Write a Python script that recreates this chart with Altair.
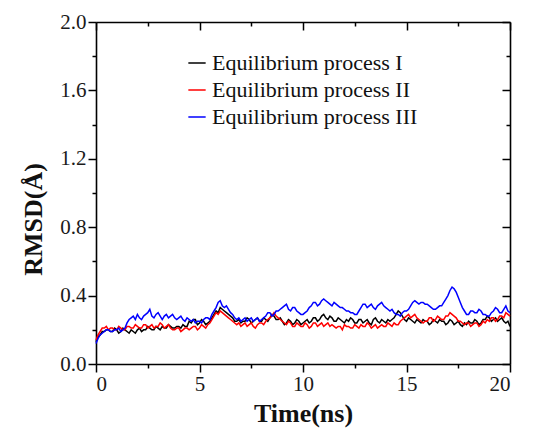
import altair as alt
import pandas as pd

time_ns = [i / 10 for i in range(201)]

rmsd_I = [
    0.13, 0.16, 0.17, 0.19, 0.19, 0.20, 0.20, 0.19, 0.19, 0.21,
    0.20, 0.18, 0.19, 0.21, 0.20, 0.19, 0.18, 0.20, 0.19, 0.18,
    0.20, 0.21, 0.19, 0.20, 0.20, 0.22, 0.21, 0.20, 0.20, 0.22,
    0.21, 0.20, 0.22, 0.21, 0.21, 0.23, 0.22, 0.21, 0.21, 0.22,
    0.22, 0.21, 0.23, 0.22, 0.22, 0.25, 0.24, 0.26, 0.26, 0.23,
    0.24, 0.26, 0.25, 0.23, 0.24, 0.25, 0.27, 0.29, 0.31, 0.30,
    0.33, 0.32, 0.31, 0.30, 0.29, 0.28, 0.27, 0.25, 0.25, 0.26,
    0.24, 0.25, 0.25, 0.27, 0.26, 0.24, 0.25, 0.26, 0.27, 0.25,
    0.25, 0.27, 0.26, 0.25, 0.27, 0.29, 0.28, 0.26, 0.26, 0.27,
    0.25, 0.23, 0.24, 0.26, 0.25, 0.23, 0.24, 0.26, 0.25, 0.23,
    0.24, 0.25, 0.26, 0.24, 0.25, 0.27, 0.27, 0.25, 0.26, 0.28,
    0.29, 0.27, 0.26, 0.28, 0.27, 0.25, 0.25, 0.27, 0.26, 0.25,
    0.24, 0.26, 0.25, 0.27, 0.26, 0.24, 0.24, 0.26, 0.26, 0.24,
    0.25, 0.26, 0.24, 0.23, 0.26, 0.27, 0.25, 0.24, 0.26, 0.25,
    0.24, 0.26, 0.25, 0.26, 0.27, 0.29, 0.31, 0.30, 0.28, 0.26,
    0.25, 0.27, 0.26, 0.25, 0.24, 0.26, 0.25, 0.24, 0.26, 0.25,
    0.25, 0.23, 0.24, 0.26, 0.25, 0.24, 0.26, 0.25, 0.25, 0.23,
    0.24, 0.26, 0.25, 0.23, 0.24, 0.25, 0.23, 0.22, 0.24, 0.23,
    0.25, 0.24, 0.24, 0.26, 0.25, 0.23, 0.24, 0.26, 0.26, 0.28,
    0.27, 0.25, 0.26, 0.27, 0.25, 0.26, 0.27, 0.25, 0.24, 0.25,
    0.22,
]

rmsd_II = [
    0.14, 0.17, 0.19, 0.21, 0.21, 0.22, 0.20, 0.21, 0.21, 0.20,
    0.20, 0.22, 0.21, 0.20, 0.20, 0.22, 0.22, 0.21, 0.21, 0.23,
    0.22, 0.21, 0.21, 0.23, 0.23, 0.21, 0.22, 0.23, 0.21, 0.22,
    0.22, 0.24, 0.23, 0.21, 0.22, 0.23, 0.21, 0.20, 0.20, 0.21,
    0.21, 0.19, 0.20, 0.21, 0.21, 0.20, 0.21, 0.22, 0.22, 0.20,
    0.21, 0.23, 0.22, 0.21, 0.23, 0.24, 0.26, 0.28, 0.30, 0.29,
    0.31, 0.30, 0.29, 0.28, 0.27, 0.26, 0.25, 0.24, 0.23, 0.24,
    0.22, 0.23, 0.24, 0.22, 0.23, 0.24, 0.22, 0.21, 0.23, 0.24,
    0.24, 0.23, 0.25, 0.26, 0.27, 0.28, 0.30, 0.28, 0.27, 0.26,
    0.25, 0.24, 0.23, 0.25, 0.24, 0.22, 0.22, 0.24, 0.23, 0.22,
    0.22, 0.24, 0.23, 0.21, 0.22, 0.24, 0.24, 0.22, 0.23, 0.24,
    0.22, 0.23, 0.24, 0.22, 0.23, 0.22, 0.21, 0.22, 0.22, 0.20,
    0.23, 0.22, 0.22, 0.21, 0.21, 0.23, 0.22, 0.21, 0.23, 0.22,
    0.22, 0.24, 0.23, 0.21, 0.22, 0.23, 0.21, 0.22, 0.23, 0.22,
    0.22, 0.24, 0.23, 0.22, 0.24, 0.23, 0.23, 0.25, 0.26, 0.27,
    0.28, 0.29, 0.27, 0.28, 0.29, 0.27, 0.26, 0.25, 0.24, 0.25,
    0.25, 0.27, 0.27, 0.25, 0.26, 0.28, 0.27, 0.26, 0.26, 0.28,
    0.28, 0.30, 0.29, 0.28, 0.27, 0.25, 0.25, 0.24, 0.23, 0.24,
    0.24, 0.22, 0.23, 0.24, 0.24, 0.22, 0.23, 0.25, 0.24, 0.26,
    0.25, 0.27, 0.27, 0.25, 0.26, 0.28, 0.28, 0.27, 0.30, 0.29,
    0.28,
]

rmsd_III = [
    0.12, 0.15, 0.17, 0.18, 0.19, 0.20, 0.20, 0.19, 0.19, 0.20,
    0.20, 0.21, 0.19, 0.20, 0.21, 0.24, 0.26, 0.27, 0.28, 0.26,
    0.29, 0.27, 0.26, 0.28, 0.29, 0.30, 0.32, 0.28, 0.27, 0.29,
    0.30, 0.28, 0.26, 0.28, 0.29, 0.27, 0.28, 0.29, 0.27, 0.26,
    0.27, 0.28, 0.26, 0.25, 0.27, 0.26, 0.25, 0.26, 0.24, 0.25,
    0.25, 0.24, 0.26, 0.27, 0.27, 0.26, 0.29, 0.31, 0.33, 0.36,
    0.37, 0.34, 0.33, 0.34, 0.32, 0.30, 0.29, 0.27, 0.26, 0.27,
    0.25, 0.26, 0.27, 0.25, 0.26, 0.27, 0.25, 0.26, 0.27, 0.25,
    0.26, 0.27, 0.28, 0.30, 0.30, 0.28, 0.29, 0.31, 0.31, 0.32,
    0.33, 0.34, 0.35, 0.32, 0.31, 0.33, 0.33, 0.31, 0.30, 0.29,
    0.29, 0.30, 0.31, 0.33, 0.34, 0.36, 0.36, 0.34, 0.35, 0.37,
    0.38, 0.37, 0.36, 0.35, 0.34, 0.36, 0.35, 0.34, 0.33, 0.33,
    0.32, 0.31, 0.31, 0.30, 0.30, 0.29, 0.29, 0.31, 0.33, 0.35,
    0.35, 0.33, 0.34, 0.35, 0.33, 0.32, 0.34, 0.35, 0.36, 0.34,
    0.33, 0.32, 0.31, 0.32, 0.30, 0.29, 0.29, 0.28, 0.30, 0.31,
    0.31, 0.32, 0.34, 0.36, 0.37, 0.36, 0.35, 0.36, 0.36, 0.35,
    0.35, 0.34, 0.33, 0.32, 0.32, 0.33, 0.34, 0.34, 0.36, 0.38,
    0.40, 0.43, 0.45, 0.44, 0.42, 0.39, 0.36, 0.33, 0.31, 0.29,
    0.29, 0.31, 0.31, 0.30, 0.30, 0.32, 0.31, 0.29, 0.29, 0.28,
    0.28, 0.30, 0.31, 0.33, 0.32, 0.30, 0.30, 0.32, 0.34, 0.31,
    0.30,
]

series_names = ["Equilibrium process I", "Equilibrium process II", "Equilibrium process III"]
series_colors = ["#000000", "#ff0000", "#0000ff"]

x_major = [0, 5, 10, 15, 20]
x_minor = [2.5, 7.5, 12.5, 17.5]
y_major = [0.0, 0.4, 0.8, 1.2, 1.6, 2.0]
y_minor = [0.2, 0.6, 1.0, 1.4, 1.8]

rows = []
for k, (name, vals) in enumerate(zip(series_names, [rmsd_I, rmsd_II, rmsd_III])):
    for t, v in zip(time_ns, vals):
        rows.append({"time": t, "rmsd": v, "series": name, "k": k})
df = pd.DataFrame(rows)

W, H = 414, 342
FONT = "Liberation Serif"
xscale = alt.Scale(domain=[0, 20], nice=False)
yscale = alt.Scale(domain=[0, 2], nice=False)

base = alt.Chart(df)

common = dict(grid=False, domainColor="black", tickColor="black", domainWidth=1.6, tickWidth=1.5)

lines = base.mark_line(strokeWidth=1.5).encode(
    x=alt.X("time:Q", scale=xscale, axis=alt.Axis(
        orient="bottom", values=x_major, title="Time(ns)", tickSize=8,
        labelFont=FONT, labelFontSize=21, labelColor="#1a1a1a", labelPadding=1,
        titleFont=FONT, titleFontSize=26, titleFontWeight="bold", titleColor="#111",
        titlePadding=6, **common)),
    y=alt.Y("rmsd:Q", scale=yscale, axis=alt.Axis(
        orient="left", values=y_major, format=".1f", title="RMSD(Å)", tickSize=8,
        labelFont=FONT, labelFontSize=21, labelColor="#1a1a1a", labelPadding=2,
        titleFont=FONT, titleFontSize=26, titleFontWeight="bold", titleColor="#111",
        titlePadding=13, titleY=197, **common)),
    color=alt.Color("series:N", scale=alt.Scale(domain=series_names, range=series_colors),
                    legend=alt.Legend(
                        title=None, orient="none", legendX=90, legendY=30,
                        symbolType="stroke", symbolSize=300, symbolStrokeWidth=1.5,
                        labelFont=FONT, labelFontSize=22, labelColor="#111", labelLimit=400,
                        labelOffset=4, rowPadding=5, padding=0)),
    order=alt.Order("k:Q"),
)

minor = base.mark_line(opacity=0).encode(
    x=alt.X("time:Q", scale=xscale, axis=alt.Axis(
        orient="bottom", values=x_minor, tickSize=4, labels=False, domain=False, title=None, **common)),
    y=alt.Y("rmsd:Q", scale=yscale, axis=alt.Axis(
        orient="left", values=y_minor, tickSize=4, labels=False, domain=False, title=None, **common)),
)

mirror_major = base.mark_line(opacity=0).encode(
    x=alt.X("time:Q", scale=xscale, axis=alt.Axis(
        orient="bottom", offset=-H, values=x_major, tickSize=8, labels=False, title=None, **common)),
    y=alt.Y("rmsd:Q", scale=yscale, axis=alt.Axis(
        orient="left", offset=-W, values=y_major, tickSize=8, labels=False, title=None, **common)),
)

mirror_minor = base.mark_line(opacity=0).encode(
    x=alt.X("time:Q", scale=xscale, axis=alt.Axis(
        orient="bottom", offset=-H, values=x_minor, tickSize=4, labels=False, domain=False, title=None, **common)),
    y=alt.Y("rmsd:Q", scale=yscale, axis=alt.Axis(
        orient="left", offset=-W, values=y_minor, tickSize=4, labels=False, domain=False, title=None, **common)),
)

chart = alt.layer(lines, minor, mirror_major, mirror_minor).resolve_scale(
    x="shared", y="shared"
).resolve_axis(
    x="independent", y="independent"
).properties(
    width=W, height=H,
    padding={"left": 88, "top": 14, "right": 15, "bottom": 66},
    autosize=alt.AutoSizeParams(type="none"),
    background="white",
).configure_view(strokeWidth=0)

chart.save("out.html", embed_options={"renderer": "svg", "actions": False})
